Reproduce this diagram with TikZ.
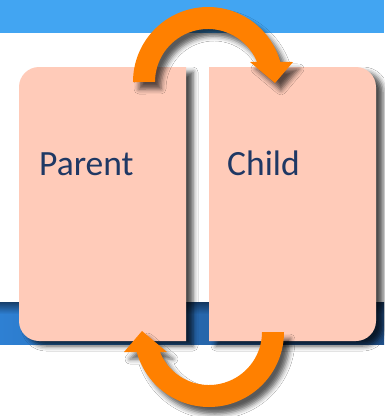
\documentclass[tikz,border=0pt]{standalone}
\usepackage{fontspec}
\setmainfont{Carlito}
\usetikzlibrary{shadows.blur,fadings}
\definecolor{topband}{HTML}{42A5F2}
\definecolor{bandL}{HTML}{2E80D3}
\definecolor{bandR}{HTML}{1F4F88}
\definecolor{bandDark}{HTML}{0E2440}
\definecolor{boxfill}{HTML}{FFCBB9}
\definecolor{arrowc}{HTML}{FF8000}
\definecolor{textc}{HTML}{1F3864}
\tikzset{
  panel/.style={fill=boxfill, blur shadow={shadow xshift=7pt, shadow yshift=-5pt, shadow blur radius=5pt, shadow opacity=70}},
  turnarrow/.style={fill=arrowc, blur shadow={shadow xshift=6pt, shadow yshift=-7pt, shadow blur radius=5pt, shadow opacity=65}},
  label/.style={text=textc, font=\fontsize{35.5}{42}\selectfont, inner sep=0pt, anchor=base west}
}
\begin{document}
\begin{tikzpicture}[x=1pt,y=-1pt]
\useasboundingbox (0,0) rectangle (384,416);
\fill[white] (0,0) rectangle (384,416);
% bands
\fill[topband] (0,0) rectangle (384,33);
\shade[left color=bandL, right color=bandR] (0,302) rectangle (384,344);
\fill[bandDark, opacity=0.7, path fading=south] (0,302) rectangle (384,314);
% panels
\path[panel] (186,67) -- (39,67) .. controls (28,67) and (19,76) .. (19,87) -- (19,321) .. controls (19,332) and (28,341) .. (39,341) -- (186,341) -- cycle;
\path[panel] (209,67) -- (356,67) .. controls (367,67) and (376,76) .. (376,87) -- (376,321) .. controls (376,332) and (367,341) .. (356,341) -- (209,341) -- cycle;
\node[label] (parent) at (39,175) {Parent};
\node[label] (child) at (227,175) {Child};
% arrows
\path[turnarrow] (133,82) arc[start angle=180, end angle=344.5, radius=75] -- (293,62) -- (275,83) -- (250,62) -- (257.06,61.96) arc[start angle=337.8, end angle=180, radius=53] -- cycle;
\begin{scope}[rotate around={180:(208.5,207)}]
\path[turnarrow] (133,82) arc[start angle=180, end angle=344.5, radius=75] -- (293,62) -- (275,83) -- (250,62) -- (257.06,61.96) arc[start angle=337.8, end angle=180, radius=53] -- cycle;
\end{scope}
\end{tikzpicture}
\end{document}
